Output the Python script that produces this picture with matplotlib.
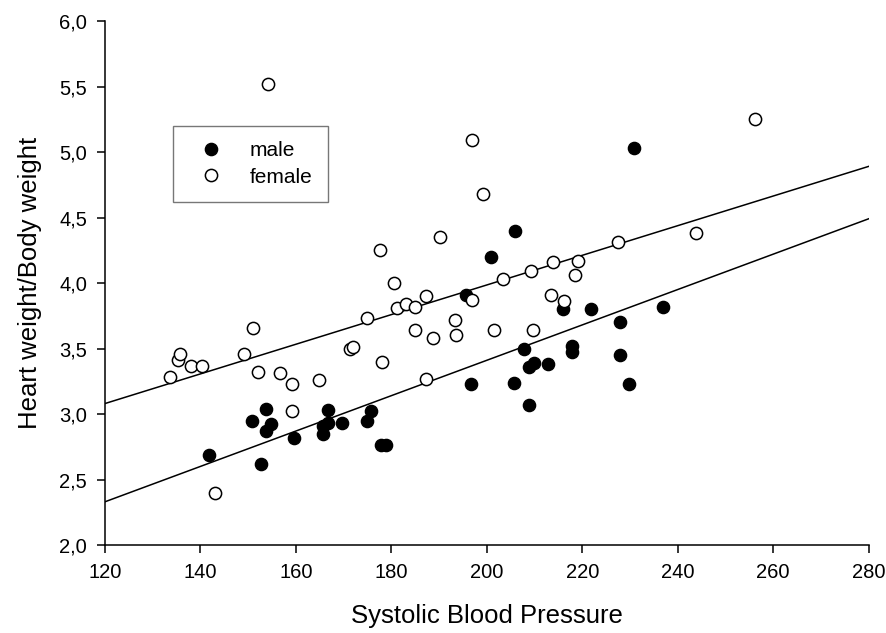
import numpy as np
import matplotlib
matplotlib.use("Agg")
import matplotlib.pyplot as plt
from matplotlib.ticker import FuncFormatter

plt.rcParams['font.family'] = ['Liberation Sans', 'DejaVu Sans']

# systolic blood pressure vs heart weight / body weight ratio
male_sbp = [141.7, 150.8, 152.7, 153.7, 153.7, 154.8, 159.7, 165.6, 165.7, 166.7,
            166.7, 169.7, 174.8, 175.8, 177.8, 178.9, 195.7, 196.8, 200.8, 205.8,
            205.9, 207.8, 208.8, 208.9, 209.9, 212.9, 215.9, 217.9, 217.9, 221.9,
            227.9, 227.9, 229.9, 230.9, 236.9]
male_ratio = [2.69, 2.95, 2.62, 3.04, 2.87, 2.92, 2.82, 2.91, 2.85, 3.03,
              2.93, 2.93, 2.95, 3.02, 2.76, 2.76, 3.91, 3.23, 4.20, 3.24,
              4.40, 3.50, 3.36, 3.07, 3.39, 3.38, 3.80, 3.52, 3.47, 3.80,
              3.70, 3.45, 3.23, 5.03, 3.82]

female_sbp = [133.6, 135.3, 135.7, 138.0, 140.3, 143.1, 149.2, 151.1, 152.0, 154.1,
              156.6, 159.2, 159.2, 164.8, 171.3, 171.9, 174.8, 177.7, 178.1, 180.5,
              181.1, 183.0, 184.9, 184.9, 187.2, 187.2, 188.7, 190.1, 193.4, 193.6,
              196.9, 197.0, 199.2, 201.5, 203.4, 209.3, 209.7, 213.4, 213.9, 216.2,
              218.4, 219.1, 227.4, 243.8, 256.2]
female_ratio = [3.28, 3.41, 3.46, 3.37, 3.37, 2.40, 3.46, 3.66, 3.32, 5.52,
                3.31, 3.23, 3.02, 3.26, 3.50, 3.51, 3.73, 4.25, 3.40, 4.00,
                3.81, 3.84, 3.82, 3.64, 3.90, 3.27, 3.58, 4.35, 3.72, 3.60,
                5.09, 3.87, 4.68, 3.64, 4.03, 4.09, 3.64, 3.91, 4.16, 3.86,
                4.06, 4.17, 4.31, 4.38, 5.25]

# regression lines, value at each end of the x range
fit_x = [120, 280]
male_fit = [2.33, 4.49]
female_fit = [3.08, 4.89]

fig = plt.figure(figsize=(8.86, 6.33), dpi=100)
ax = fig.add_axes([0.1185, 0.139, 0.8618, 0.8278])

ax.plot(fit_x, male_fit, color='black', lw=1.1, zorder=2)
ax.plot(fit_x, female_fit, color='black', lw=1.1, zorder=2)

ax.plot(male_sbp, male_ratio, 'o', ms=8.8, mfc='black', mec='black', mew=1.0,
        ls='none', label='male', zorder=3)
ax.plot(female_sbp, female_ratio, 'o', ms=8.8, mfc='white', mec='black', mew=1.1,
        ls='none', label='female', zorder=4)

ax.set_xlim(120, 280)
ax.set_ylim(2.0, 6.0)
ax.set_xticks(np.arange(120, 281, 20))
ax.set_yticks(np.arange(2.0, 6.01, 0.5))
ax.yaxis.set_major_formatter(FuncFormatter(lambda v, p: f"{v:.1f}".replace('.', ',')))

for s in ['top', 'right']:
    ax.spines[s].set_visible(False)
for s in ['left', 'bottom']:
    ax.spines[s].set_linewidth(1.1)
ax.tick_params(direction='out', length=6, width=1.1, labelsize=14.5, pad=7)

ax.set_xlabel('Systolic Blood Pressure', fontsize=18.5, labelpad=16)
ax.set_ylabel('Heart weight/Body weight', fontsize=18.5, labelpad=12)

leg = ax.legend(loc='upper left', bbox_to_anchor=(172.7 / 886, 1 - 125.7 / 633),
                bbox_transform=fig.transFigure, borderaxespad=0, fontsize=15,
                frameon=True, fancybox=False, handlelength=2.2, handletextpad=0.75,
                borderpad=0.75, labelspacing=0.35)
leg.get_frame().set_edgecolor('#555555')
leg.get_frame().set_linewidth(1.0)

fig.savefig('out.png', dpi=100)
